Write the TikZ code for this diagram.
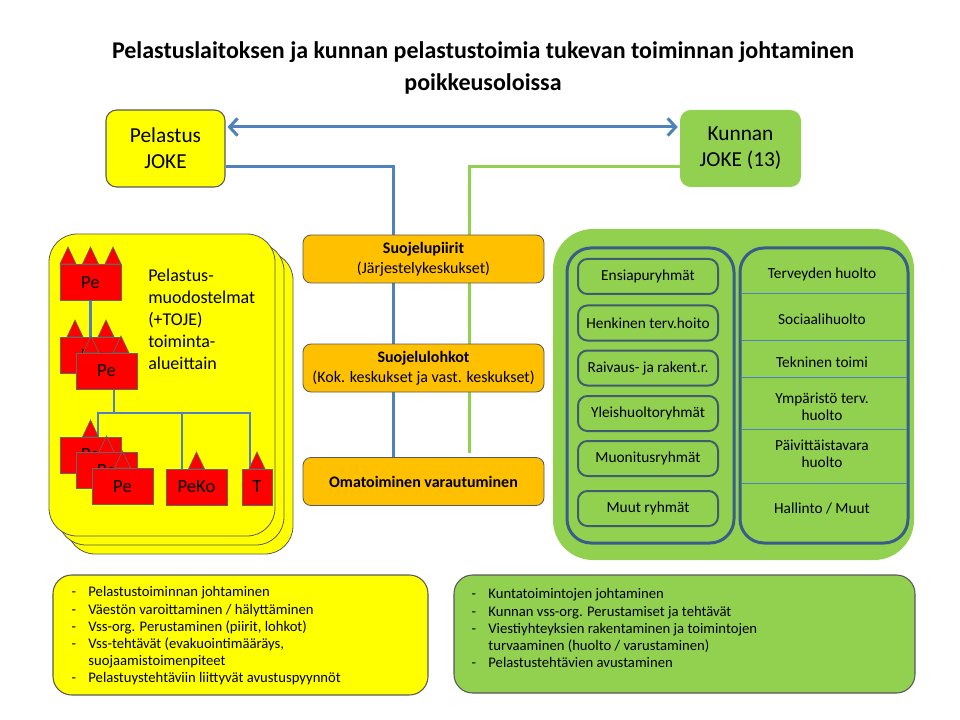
\documentclass[tikz,border=0pt]{standalone}
\usepackage{fontspec}
\setmainfont{Carlito}
\usetikzlibrary{arrows.meta,calc,backgrounds}
\definecolor{peyellow}{HTML}{FFFF00}
\definecolor{kugreen}{HTML}{92D050}
\definecolor{suorange}{HTML}{FFC000}
\definecolor{linkblue}{HTML}{4F81BD}
\definecolor{colblue}{HTML}{385D8A}
\definecolor{itemedge}{HTML}{3E5B70}
\definecolor{edgegray}{HTML}{595959}
\pgfdeclarelayer{panel}
\pgfdeclarelayer{links}
\pgfsetlayers{panel,links,main}
\tikzset{
  boxsize/.style 2 args={minimum width=#1*0.75pt, minimum height=#2*0.75pt},
  joke/.style={rounded corners=8pt, inner sep=0pt, align=center, font=\fontsize{16}{19.5}\selectfont},
  orangebox/.style={fill=suorange, draw=edgegray, line width=0.6pt, rounded corners=6pt, align=center, inner sep=0pt, boxsize={241}{48}, font=\fontsize{12}{15}\selectfont},
  pebox/.style={fill=red, draw=black!60, line width=0.5pt, inner sep=0pt, boxsize={61}{36}, font=\fontsize{14}{16}\selectfont},
  pe tip/.style={fill=red, draw=black!60, line width=0.5pt},
  rygroup/.style={fill=kugreen, draw=itemedge, line width=1.5pt, rounded corners=7pt, inner sep=0pt, boxsize={140}{35}, font=\fontsize{11.5}{13}\selectfont},
  dept/.style={inner sep=0pt, align=center, font=\fontsize{11.5}{13}\selectfont},
  mainlink/.style={line width=2.25pt},
  treelink/.style={draw=linkblue, line width=2.2pt},
  listbox/.style={draw=edgegray, line width=0.8pt, rounded corners=14pt},
  listtext/.style={inner sep=0pt, align=left, anchor=north west, font=\fontsize{11}{12.9}\selectfont}
}
\newcommand{\petip}[2]{\filldraw[pe tip] (#1-8,#2) -- (#1,#2-17) -- (#1+8,#2) -- cycle;}
\newcommand{\dash}{\makebox[12.5pt][l]{-}}

\begin{document}
\begin{tikzpicture}[x=0.75pt,y=-0.75pt]
\useasboundingbox (0,0) rectangle (960,720);

\node[font=\fontsize{18}{24}\selectfont\bfseries, align=center] (title) at (483,68) {Pelastuslaitoksen ja kunnan pelastustoimia tukevan toiminnan johtaminen\\poikkeusoloissa};

\node[joke, fill=peyellow, draw=edgegray, line width=0.8pt, boxsize={119}{77}] (pj) at (165.5,148.5) {Pelastus\\JOKE};
\node[joke, fill=kugreen, boxsize={121}{77}] (kj) at (740.5,148.5) {Kunnan\\JOKE (13)};

\node[orangebox] (piirit) at (423.5,259) {\textbf{Suojelupiirit}\\(Järjestelykeskukset)};
\node[orangebox] (lohkot) at (423.5,368) {\textbf{Suojelulohkot}\\(Kok. keskukset ja vast. keskukset)};
\node[orangebox] (oma) at (423.5,481.5) {\textbf{Omatoiminen varautuminen}};

\begin{pgfonlayer}{panel}
\foreach \off in {18,9,0}
  \filldraw[fill=peyellow, draw=edgegray, line width=0.6pt, rounded corners=21pt] (49+\off,234+\off) rectangle (275+\off,536+\off);
\fill[kugreen, rounded corners=30pt] (553,229) rectangle (914,560);
\end{pgfonlayer}

\node[inner sep=0pt, align=left, anchor=north west, font=\fontsize{13.5}{16.5}\selectfont] (muod) at (148,269) {Pelastus-\\muodostelmat\\(+TOJE)\\toiminta-\\alueittain};

\petip{68}{264}\petip{90.5}{264}\petip{113}{264}
\node[pebox] (pe1) at (90.5,282.5) {Pe};

\petip{75}{337}\petip{106}{337}
\node[pebox] (pe2a) at (90.5,355.5) {Pe};
\petip{91}{353}\petip{121}{353}
\node[pebox] (pe2b) at (106.5,371) {Pe};

\petip{90.5}{437}
\node[pebox] (pe3a) at (90.5,455) {Pe};
\petip{106.5}{453}
\node[pebox] (pe3b) at (106.5,470.5) {Pe};
\petip{122.5}{468}
\node[pebox] (pe3c) at (122.5,486.5) {Pe};
\petip{196.5}{469}
\node[pebox] (peko) at (196.5,487) {PeKo};
\petip{257}{469}
\node[pebox, boxsize={30}{36}] (tt) at (257,487) {T};

\begin{pgfonlayer}{links}
\draw[mainlink, linkblue, {Straight Barb[length=6pt,width=13pt]}-{Straight Barb[length=6pt,width=13pt]}] ($(pj.east)+(2,-21.5)$) -- ($(kj.west)+(-2,-21.5)$);
\draw[mainlink, linkblue] ($(pj.east)+(0,18.5)$) -| ($(oma.north)+(-30.5,0)$);
\draw[mainlink, kugreen] ($(kj.west)+(0,18.5)$) -| ($(oma.north)+(45.5,-4)$);

\coordinate (bus) at (114,413);
\draw[treelink] (pe1.south) -- (pe2a.north);
\draw[treelink] ($(pe2b.south)+(7.5,0)$) -- (bus);
\draw[treelink] ($(pe3a.north)+(7.5,0)$) |- (bus) -| ($(tt.north)+(-7,0)$);
\draw[treelink] ($(peko.north)+(-14.5,0)$) |- (bus);
\end{pgfonlayer}

\draw[colblue, line width=2.25pt, rounded corners=18pt] (567,248) rectangle (734,543);
\draw[colblue, line width=2.25pt, rounded corners=18pt] (740,248) rectangle (908,543);
\foreach \yy in {294,340,377,429,483}
  \draw[linkblue, line width=0.75pt] (741,\yy) -- (907,\yy);

\node[rygroup] (ensi) at (648,276.5) {Ensiapuryhmät};
\node[rygroup] (henk) at (648,323) {Henkinen terv.hoito};
\node[rygroup] (raiv) at (648,368) {Raivaus- ja rakent.r.};
\node[rygroup] (yleis) at (648,413.5) {Yleishuoltoryhmät};
\node[rygroup] (muon) at (648,458.5) {Muonitusryhmät};
\node[rygroup] (muut) at (648,508.5) {Muut ryhmät};

\node[dept] (terv) at (822,274) {Terveyden huolto};
\node[dept] (sos) at (822,319) {Sociaalihuolto};
\node[dept] (tekn) at (822,362) {Tekninen toimi};
\node[dept] (ymp) at (822,407) {Ympäristö terv.\\huolto};
\node[dept] (paiv) at (822,454) {Päivittäistavara\\huolto};
\node[dept] (hall) at (822,508) {Hallinto / Muut};

\node[listbox, fill=peyellow, boxsize={375}{120}] (lbox) at (240.5,635) {};
\node[listbox, fill=kugreen, boxsize={461}{118}] (rbox) at (684.5,634) {};
\node[listtext] (ltext) at ($(lbox.north west)+(19,12)$) {\dash Pelastustoiminnan johtaminen\\\dash Väestön varoittaminen / hälyttäminen\\\dash Vss-org. Perustaminen (piirit, lohkot)\\\dash Vss-tehtävät (evakuointimääräys,\\\hspace*{12.5pt}suojaamistoimenpiteet\\\dash Pelastuystehtäviin liittyvät avustuspyynnöt};
\node[listtext] (rtext) at ($(rbox.north west)+(18,14)$) {\dash Kuntatoimintojen johtaminen\\\dash Kunnan vss-org. Perustamiset ja tehtävät\\\dash Viestiyhteyksien rakentaminen ja toimintojen\\\hspace*{12.5pt}turvaaminen (huolto / varustaminen)\\\dash Pelastustehtävien avustaminen};
\end{tikzpicture}
\end{document}
